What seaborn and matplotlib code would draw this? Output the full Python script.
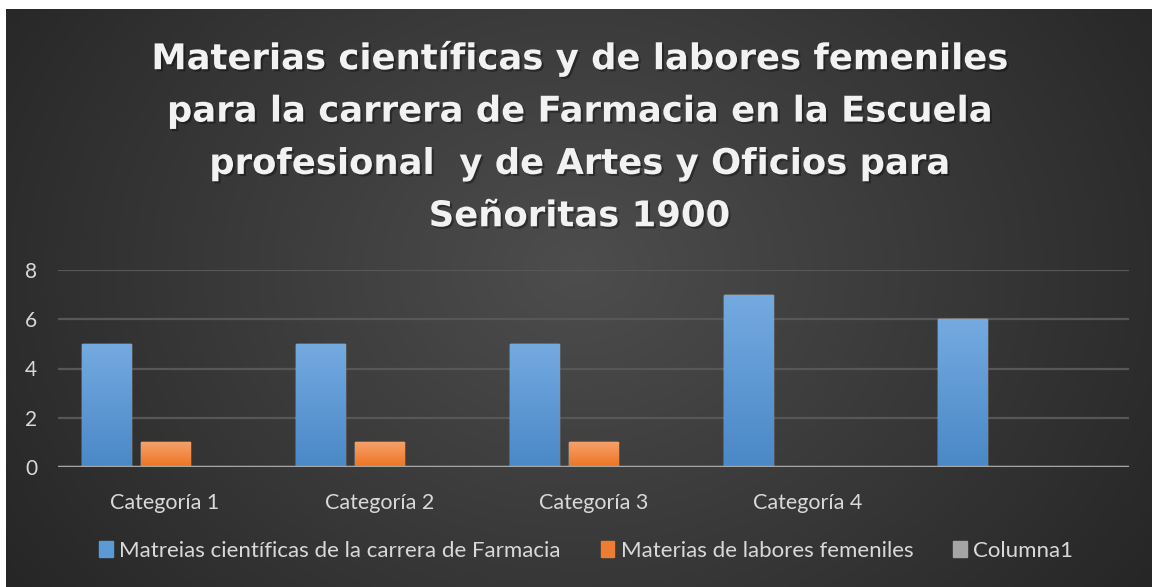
import numpy as np
import pandas as pd
import matplotlib
matplotlib.use("Agg")
import matplotlib.pyplot as plt
import matplotlib.patheffects as pe
import seaborn as sns

# datos
categorias = ["Categoría 1", "Categoría 2", "Categoría 3", "Categoría 4", ""]
serie1 = "Matreias científicas de la carrera de Farmacia"
serie2 = "Materias de labores femeniles"
serie3 = "Columna1"
valores1 = [5, 5, 5, 7, 6]
valores2 = [1, 1, 1, 0, 0]
valores3 = [0, 0, 0, 0, 0]
titulo = ("Materias científicas y de labores femeniles\n"
          "para la carrera de Farmacia en la Escuela\n"
          "profesional  y de Artes y Oficios para\n"
          "Señoritas 1900")

df = pd.DataFrame({
    "cat": categorias * 3,
    "serie": [serie1] * 5 + [serie2] * 5 + [serie3] * 5,
    "valor": valores1 + valores2 + valores3,
})

sns.set_theme(style="dark")
plt.rcParams["font.family"] = ["Lato", "DejaVu Sans"]

W, H = 1152, 587
fig = plt.figure(figsize=(W / 100, H / 100), dpi=100, facecolor="white")

# fondo con degradado radial
bg = fig.add_axes([6 / W, 0, 1 - 6 / W, 1 - 9 / H])
yy, xx = np.mgrid[0:1:300j, 0:1:600j]
r = np.sqrt(((xx - 0.5) * 1.6) ** 2 + ((yy - 0.45) * 1.0) ** 2)
r = np.clip(r / r.max(), 0, 1)
bg.imshow(r, cmap=matplotlib.colors.LinearSegmentedColormap.from_list(
    "g", ["#4d4d4d", "#262626"]), aspect="auto", extent=[0, 1, 0, 1])
bg.set_axis_off()

ax = fig.add_axes([58 / W, 120 / H, (1129 - 58) / W, (467 - 270) / H])
ax.patch.set_alpha(0)
colores = {serie1: "#5b9bd5", serie2: "#ed7d31", serie3: "#a5a5a5"}
sns.barplot(data=df, x="cat", y="valor", hue="serie", palette=colores,
            width=0.827, gap=0.17, ax=ax, legend=False, zorder=3)

# degradado en las barras
grads = {serie1: ["#4a88c7", "#74aae0"], serie2: ["#ee7420", "#f5a06a"]}
for cont, nombre in zip(ax.containers, [serie1, serie2, serie3]):
    for p in cont.patches:
        if p.get_height() <= 0 or nombre not in grads:
            continue
        x0, y0 = p.get_x(), p.get_y()
        cm = matplotlib.colors.LinearSegmentedColormap.from_list("b", grads[nombre])
        im = ax.imshow(np.linspace(0, 1, 100).reshape(-1, 1), cmap=cm, origin="lower",
                       extent=[x0, x0 + p.get_width(), y0, y0 + p.get_height()],
                       aspect="auto", zorder=4)
        im.set_clip_path(p)
        p.set_path_effects([pe.SimplePatchShadow(offset=(1.5, -1), alpha=0.25, shadow_rgbFace="black"),
                            pe.Normal()])

ax.set_xlim(-0.5, 4.5)
ax.set_ylim(0, 8)
ax.set_yticks([0, 2, 4, 6, 8])
ax.grid(axis="y", color="#575757", lw=1.6, zorder=0)
ax.grid(axis="x", visible=False)
ax.axhline(0, color="#a6a6a6", lw=2.5, zorder=5)
for s in ax.spines.values():
    s.set_visible(False)
ax.set_xlabel("")
ax.set_ylabel("")
ax.tick_params(axis="y", colors="#d9d9d9", labelsize=15, length=0, pad=15)
ax.tick_params(axis="x", colors="#d9d9d9", labelsize=15.5, length=0, pad=19)

fig.text(0.503, 1 - 137 / H, titulo, ha="center", va="center", color="#f2f2f2",
         fontsize=25.5, fontweight="bold", family=["DejaVu Sans"],
         linespacing=1.68,
         path_effects=[pe.withSimplePatchShadow(offset=(1.5, -1.5), alpha=0.35,
                                                shadow_rgbFace="black")])

handles = [matplotlib.patches.Patch(color=colores[s], label=s) for s in [serie1, serie2, serie3]]
leg = fig.legend(handles=handles, loc="center", bbox_to_anchor=(0.509, 1 - 551 / H),
                 ncol=3, frameon=False, fontsize=16, labelcolor="#d9d9d9",
                 handlelength=0.6, handleheight=0.7, handletextpad=0.3,
                 columnspacing=1.8)

fig.savefig("out.png", dpi=100)
